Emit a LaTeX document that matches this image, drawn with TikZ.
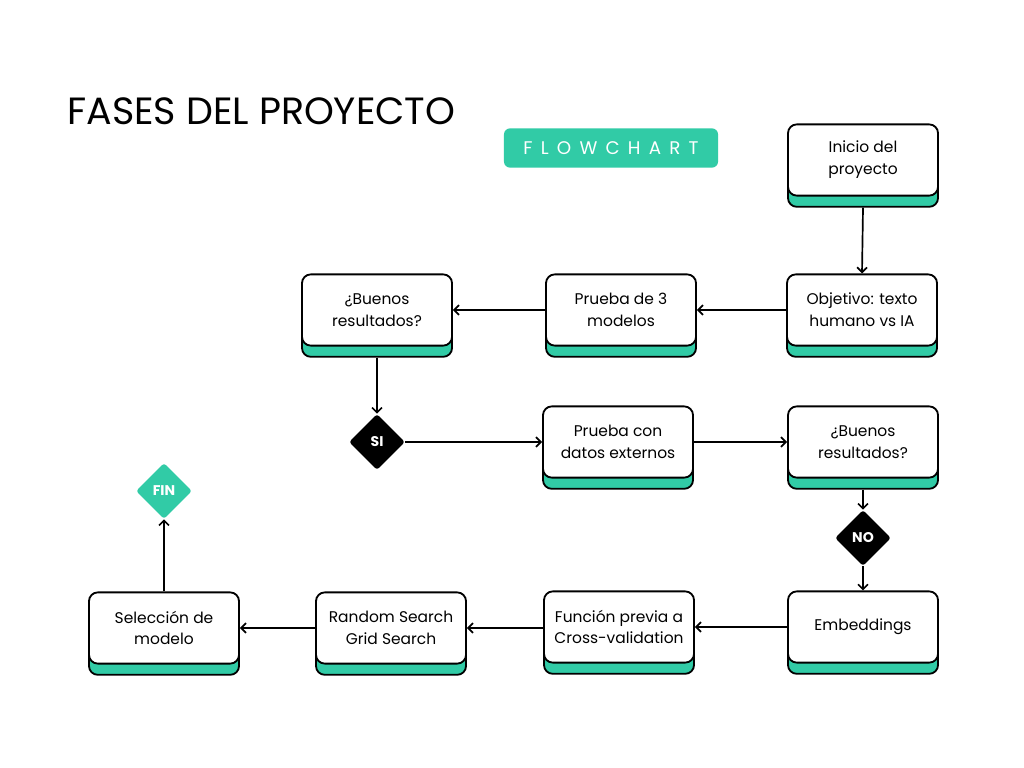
\documentclass[tikz,border=0pt]{standalone}
\usepackage{fontspec}
\setmainfont{Poppins}
\usetikzlibrary{arrows.meta,shapes.geometric,shadows}
\definecolor{fgreen}{HTML}{31CBA6}

\tikzset{
  card/.style={draw=black, line width=1.3pt, fill=white, rounded corners=0.22cm,
    minimum width=3.75cm, minimum height=1.78cm, align=center, inner sep=2pt,
    font=\fontsize{11}{15.5}\selectfont,
    copy shadow={shadow xshift=0cm, shadow yshift=-0.28cm, fill=fgreen, draw=black, line width=1.3pt}},
  gate/.style={diamond, fill=black, minimum width=1.4cm, minimum height=1.4cm, inner sep=0pt,
    rounded corners=2pt, text=white, font=\bfseries\fontsize{10}{11}\selectfont},
  link/.style={-{Straight Barb[length=3.5pt,width=7pt]}, line width=1.2pt}
}

\begin{document}
\begin{tikzpicture}[x=0.025cm, y=-0.025cm]
                    \useasboundingbox (0,0) rectangle (1024,768);
                    \fill [white] (0,0) rectangle (1024,768);

                    \node (title) [anchor=base west, inner sep=0pt, font=\fontsize{27}{32}\selectfont] at (67,125) {FASES DEL PROYECTO};
                    \node (badge) [fill=fgreen, rounded corners=0.15cm, minimum width=5.35cm, minimum height=0.98cm,
                        text=white, font=\fontsize{13}{15}\selectfont\addfontfeature{LetterSpace=45}] at (611,148) {FLOWCHART};

                    \node (inicio) [card] at (863,160) {Inicio del\\proyecto};
                    \node (objetivo) [card] at (862,310) {Objetivo: texto\\humano vs IA};
                    \node (prueba3) [card] at (621,310) {Prueba de 3\\modelos};
                    \node (buenos1) [card] at (377,310) {¿Buenos\\resultados?};
                    \node (si) [gate] at (377,442) {SI};
                    \node (pruebacon) [card] at (618,442) {Prueba con\\datos externos};
                    \node (buenos2) [card] at (863,442) {¿Buenos\\resultados?};
                    \node (no) [gate] at (863,538) {NO};
                    \node (embed) [card] at (863,627) {Embeddings};
                    \node (funcion) [card] at (619,627) {Función previa a\\Cross-validation};
                    \node (random) [card] at (391,628) {Random Search\\Grid Search};
                    \node (seleccion) [card] at (164,628) {Selección de\\modelo};
                    \node (fin) [gate, fill=fgreen] at (164,491) {FIN};

                    \draw [link] ([yshift=-0.28cm]inicio.south) -- (objetivo.north);
                    \draw [link] (objetivo.west) -- (prueba3.east);
                    \draw [link] (prueba3.west) -- (buenos1.east);
                    \draw [link] ([yshift=-0.28cm]buenos1.south) -- (si.north);
                    \draw [link] (si.east) -- (pruebacon.west);
                    \draw [link] (pruebacon.east) -- (buenos2.west);
                    \draw [link] ([yshift=-0.28cm]buenos2.south) -- (no.north);
                    \draw [link] (no.south) -- (embed.north);
                    \draw [link] (embed.west) -- (funcion.east);
                    \draw [link] (funcion.west) -- (random.west -| funcion.west) -- (random.east);
                    \draw [link] (random.west) -- (seleccion.east);
                    \draw [link] (seleccion.north) -- (fin.south);
\end{tikzpicture}
\end{document}
